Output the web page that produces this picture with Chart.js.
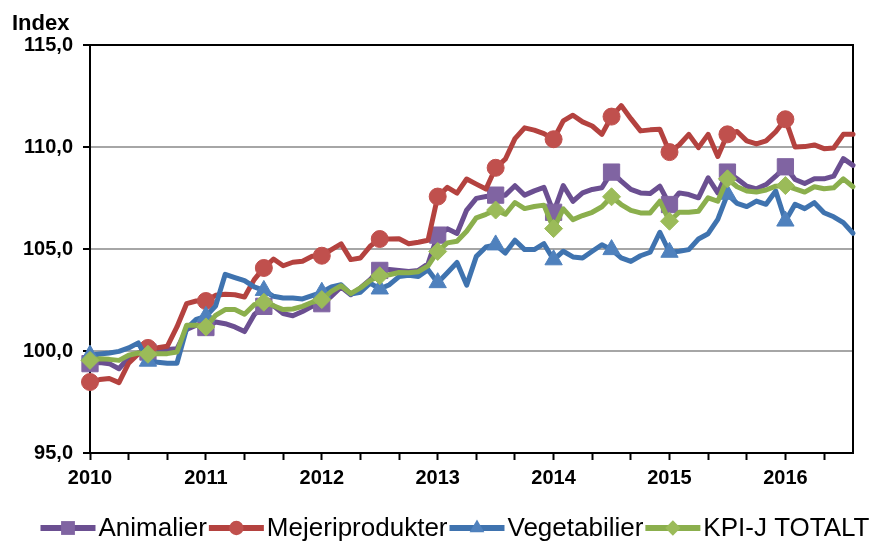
<!DOCTYPE html>
<html><head><meta charset="utf-8">
<script src="https://cdn.jsdelivr.net/npm/chart.js@4/dist/chart.umd.min.js"></script>
<style>html,body{margin:0;padding:0;background:#fff;}canvas{display:block;}</style>
</head><body>
<canvas id="c" width="870" height="542"></canvas>
<script>
const years = ['2010','2011','2012','2013','2014','2015','2016'];
const monthNames = ['jan','feb','mar','apr','maj','jun','jul','aug','sep','okt','nov','dec'];
const yTitle = 'Index';
const yTicks = [95, 100, 105, 110, 115];

const animalier = [99.38, 99.43, 99.38, 99.13, 99.67, 99.9, 99.95, 100.03, 100.07, 100.11,
  101.05, 101.26, 101.15, 101.42, 101.34, 101.18, 100.95, 101.78, 102.19, 102.22,
  101.83, 101.73, 101.94, 102.19, 102.32, 102.68, 103.14, 102.76, 103.09, 103.5,
  103.95, 103.99, 103.95, 103.9, 103.95, 104.27, 105.68, 105.99, 105.76, 106.91,
  107.48, 107.57, 107.64, 107.64, 108.1, 107.64, 107.85, 108.02, 106.8, 108.11,
  107.34, 107.75, 107.92, 108.0, 108.77, 108.33, 107.92, 107.75, 107.72, 108.08,
  107.18, 107.75, 107.67, 107.51, 108.49, 107.75, 108.77, 108.44, 108.08, 107.95,
  108.16, 108.57, 109.03, 108.41, 108.21, 108.44, 108.44, 108.57, 109.43, 109.1];

const mejeriprodukter = [98.48, 98.6, 98.65, 98.45, 99.4, 99.85, 100.15, 100.16, 100.23, 101.18,
  102.32, 102.45, 102.45, 102.73, 102.78, 102.76, 102.65, 103.5, 104.07, 104.51,
  104.18, 104.35, 104.4, 104.64, 104.67, 104.97, 105.25, 104.48, 104.56, 105.13,
  105.49, 105.49, 105.5, 105.26, 105.33, 105.43, 107.57, 108.02, 107.74, 108.43,
  108.18, 107.94, 108.98, 109.4, 110.41, 110.94, 110.83, 110.66, 110.38, 111.28,
  111.56, 111.23, 111.03, 110.62, 111.49, 112.03, 111.39, 110.79, 110.84, 110.87,
  109.75, 110.1, 110.62, 109.97, 110.62, 109.54, 110.62, 110.76, 110.3, 110.15,
  110.3, 110.75, 111.36, 110.0, 110.02, 110.1, 109.92, 109.95, 110.62, 110.62];

const vegetabilier = [99.8, 99.85, 99.9, 99.98, 100.15, 100.4, 99.5, 99.45, 99.4, 99.4,
  101.1, 101.55, 101.7, 102.2, 103.76, 103.6, 103.45, 103.14, 102.97, 102.68,
  102.6, 102.6, 102.55, 102.71, 102.88, 103.14, 103.25, 102.79, 102.88, 103.33,
  103.04, 103.25, 103.65, 103.71, 103.65, 103.98, 103.35, 103.84, 104.34, 103.23,
  104.64, 105.1, 105.2, 104.8, 105.43, 104.97, 104.97, 105.26, 104.47, 104.89,
  104.61, 104.56, 104.89, 105.21, 104.97, 104.56, 104.39, 104.67, 104.84, 105.82,
  104.84, 104.89, 104.97, 105.49, 105.75, 106.45, 107.68, 107.24, 107.08, 107.35,
  107.19, 107.84, 106.37, 107.19, 106.98, 107.27, 106.78, 106.58, 106.29, 105.77];

const kpiTotalt = [99.54, 99.62, 99.59, 99.54, 99.79, 99.9, 99.84, 99.87, 99.87, 99.95,
  101.26, 101.26, 101.18, 101.75, 102.03, 102.03, 101.8, 102.27, 102.39, 102.22,
  102.03, 102.06, 102.19, 102.39, 102.52, 102.92, 103.2, 102.81, 103.09, 103.46,
  103.69, 103.74, 103.85, 103.84, 103.89, 104.17, 104.88, 105.3, 105.38, 105.87,
  106.53, 106.7, 106.91, 106.7, 107.28, 106.98, 107.08, 107.15, 106.0, 106.97,
  106.44, 106.64, 106.8, 107.07, 107.56, 107.18, 106.89, 106.77, 106.77, 107.34,
  106.36, 106.8, 106.8, 106.85, 107.51, 107.34, 108.44, 108.05, 107.84, 107.79,
  107.89, 108.08, 108.11, 107.95, 107.79, 108.05, 107.95, 108.0, 108.44, 108.05];

const categories = years.flatMap(y => monthNames.map(m => m + ' ' + y)).slice(0, animalier.length);

const MARK_EVERY = 6;
const MARK_LAST = 72;
function hasMarker(i) { return i % MARK_EVERY === 0 && i <= MARK_LAST; }
function makeSet(label, data, line, mark, style, r, order) {
  return {
    label, data, order,
    borderColor: line, backgroundColor: mark, borderWidth: 5, tension: 0,
    borderJoinStyle: 'round', borderCapStyle: 'round',
    pointStyle: style,
    pointRadius: c => hasMarker(c.dataIndex) ? r : 0,
    pointHoverRadius: c => hasMarker(c.dataIndex) ? r : 0,
    pointBackgroundColor: mark, pointBorderColor: mark, pointBorderWidth: 1,
    markerRadius: r
  };
}

const datasets = [
  makeSet('Animalier', animalier, '#6B4F91', '#8064A2', 'rect', 11.5, 4),
  makeSet('Mejeriprodukter', mejeriprodukter, '#B4423F', '#C0504D', 'circle', 8.5, 3),
  makeSet('Vegetabilier', vegetabilier, '#3F73AF', '#4F81BD', 'triangle', 10, 2),
  makeSet('KPI-J TOTALT', kpiTotalt, '#8BAF4D', '#9BBB59', 'rectRot', 9, 1)
];

function drawMarker(ctx, style, x, y, r) {
  ctx.beginPath();
  if (style === 'rect') {
    const s = r * Math.SQRT1_2; ctx.rect(x - s, y - s, 2 * s, 2 * s);
  } else if (style === 'circle') {
    ctx.arc(x, y, r, 0, Math.PI * 2);
  } else if (style === 'triangle') {
    for (let k = 0; k < 3; k++) {
      const a = k * 2 * Math.PI / 3;
      const px = x + Math.sin(a) * r, py = y - Math.cos(a) * r;
      k === 0 ? ctx.moveTo(px, py) : ctx.lineTo(px, py);
    }
    ctx.closePath();
  } else {
    ctx.moveTo(x - r, y); ctx.lineTo(x, y - r); ctx.lineTo(x + r, y); ctx.lineTo(x, y + r); ctx.closePath();
  }
  ctx.fill();
}

const decor = {
  id: 'decor',
  beforeDatasetsDraw(chart) {
    const { ctx, chartArea: a } = chart;
    ctx.save();
    ctx.strokeStyle = '#000'; ctx.lineWidth = 2;
    ctx.beginPath(); ctx.moveTo(a.right, a.top - 1); ctx.lineTo(a.right, a.bottom + 1); ctx.stroke();
    ctx.restore();
  },
  afterDraw(chart) {
    const ctx = chart.ctx;
    ctx.save();
    ctx.fillStyle = '#000';
    ctx.font = 'bold 22px "Liberation Sans", Arial, sans-serif';
    ctx.textBaseline = 'alphabetic'; ctx.textAlign = 'left';
    ctx.fillText(yTitle, 12, 30);
    // legend
    ctx.font = '26px "Liberation Sans", Arial, sans-serif';
    ctx.textBaseline = 'middle';
    const lineLen = 55, gapText = 3, gapItem = 2;
    const items = chart.data.datasets.map(d => ({ d, w: ctx.measureText(d.label).width }));
    const total = items.reduce((s, it) => s + lineLen + gapText + it.w, 0) + gapItem * (items.length - 1);
    let x = 455 - total / 2;
    const y = 528;
    items.forEach(it => {
      ctx.strokeStyle = it.d.borderColor; ctx.lineWidth = 6; ctx.lineCap = 'butt';
      ctx.beginPath(); ctx.moveTo(x, y); ctx.lineTo(x + lineLen, y); ctx.stroke();
      ctx.fillStyle = it.d.backgroundColor;
      drawMarker(ctx, it.d.pointStyle, x + lineLen / 2, y, it.d.markerRadius * 0.85);
      ctx.fillStyle = '#000';
      ctx.fillText(it.d.label, x + lineLen + gapText, y + 1);
      x += lineLen + gapText + it.w + gapItem;
    });
    ctx.restore();
  }
};

const tickFont = { family: '"Liberation Sans", Arial, sans-serif', weight: 'bold', size: 20 };

new Chart(document.getElementById('c'), {
  type: 'line',
  data: { labels: categories, datasets },
  plugins: [decor],
  options: {
    responsive: false,
    animation: false,
    layout: { padding: { top: 45, right: 17, bottom: 49, left: 0 } },
    plugins: { legend: { display: false }, tooltip: { enabled: false }, title: { display: false } },
    scales: {
      x: {
        type: 'category', offset: false,
        ticks: {
          autoSkip: false, maxRotation: 0, minRotation: 0, font: tickFont, color: '#000', padding: 6,
          callback: (v, i) => i % 12 === 0 ? years[i / 12] : ''
        },
        grid: {
          drawOnChartArea: false, tickLength: 7, tickWidth: 2,
          tickColor: c => (c.index % 4 === 0 ? '#000' : 'rgba(0,0,0,0)')
        },
        border: { color: '#000', width: 2 },
        afterFit: s => { s.height = 40; }
      },
      y: {
        min: 95, max: 115,
        afterBuildTicks: s => { s.ticks = yTicks.map(v => ({ value: v })); },
        ticks: { font: tickFont, color: '#000', padding: 10, callback: v => Number(v).toFixed(1).replace('.', ',') },
        grid: {
          lineWidth: 2, tickLength: 7, tickWidth: 2, tickColor: '#000',
          color: c => (c.tick && (c.tick.value === 115 || c.tick.value === 95) ? '#000' : '#A6A6A6')
        },
        border: { color: '#000', width: 2 },
        afterFit: s => { s.width = 90; }
      }
    }
  }
});
</script>
</body></html>
